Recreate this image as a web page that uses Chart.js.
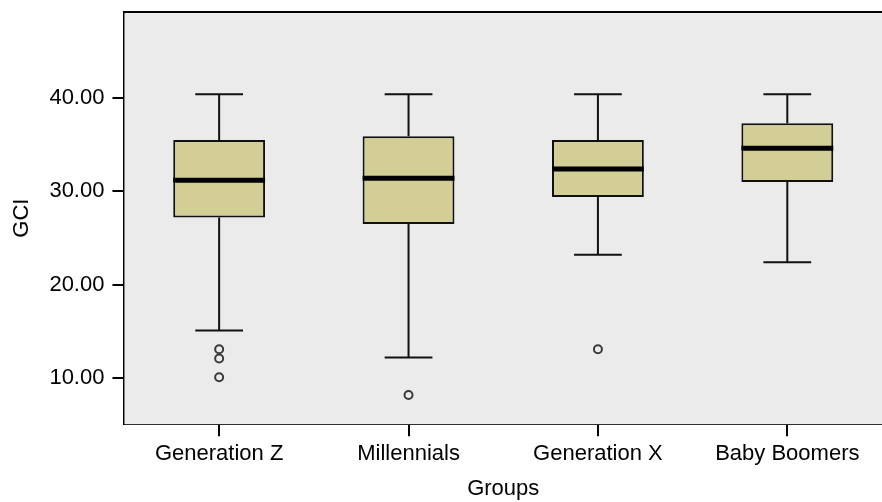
<!DOCTYPE html>
<html>
<head>
<meta charset="utf-8">
<script src="https://cdn.jsdelivr.net/npm/chart.js@4/dist/chart.umd.min.js"></script>
<style>
  html, body { margin: 0; padding: 0; background: #fff; overflow: hidden; }
  #wrap { width: 888px; height: 502px; }
</style>
</head>
<body>
<div id="wrap"><canvas id="boxChart"></canvas></div>
<script>
const categories = ["Generation Z", "Millennials", "Generation X", "Baby Boomers"];
const whiskerLow = [15.1, 12.2, 23.2, 22.4];
const q1 = [27.2, 26.5, 29.4, 31.0];
const median = [31.2, 31.4, 32.4, 34.6];
const q3 = [35.5, 35.9, 35.5, 37.3];
const whiskerHigh = [40.4, 40.4, 40.4, 40.4];
const outliers = [[13.1, 12.1, 10.1], [8.2], [13.1], []];
const yTicks = [10, 20, 30, 40];

const outlierPoints = [];
outliers.forEach((list, i) => {
  list.forEach(v => outlierPoints.push({ x: categories[i], y: v }));
});

const FONT = "'Liberation Sans', Arial, sans-serif";

// grey plot background, top frame line, whiskers and medians
const boxPlot = {
  id: 'boxPlot',
  beforeDatasetsDraw(chart) {
    const { ctx, chartArea: a } = chart;
    ctx.save();
    ctx.fillStyle = '#ebebeb';
    ctx.fillRect(a.left, a.top, a.right - a.left, a.bottom - a.top);
    ctx.strokeStyle = '#000';
    ctx.lineWidth = 2;
    ctx.beginPath();
    ctx.moveTo(a.left - 1, a.top);
    ctx.lineTo(a.right, a.top);
    ctx.stroke();
    ctx.restore();
  },
  afterDatasetsDraw(chart) {
    const { ctx } = chart;
    const y = chart.scales.y;
    const bars = chart.getDatasetMeta(0).data;
    ctx.save();
    bars.forEach((bar, i) => {
      const cx = bar.x;
      const half = bar.width / 2;
      const cap = bar.width * 0.26;
      const yLo = y.getPixelForValue(whiskerLow[i]);
      const yHi = y.getPixelForValue(whiskerHigh[i]);
      const yQ1 = y.getPixelForValue(q1[i]);
      const yQ3 = y.getPixelForValue(q3[i]);
      ctx.strokeStyle = '#111';
      ctx.lineWidth = 2;
      ctx.beginPath();
      ctx.moveTo(cx, yQ3); ctx.lineTo(cx, yHi);
      ctx.moveTo(cx, yQ1); ctx.lineTo(cx, yLo);
      ctx.moveTo(cx - cap, yHi); ctx.lineTo(cx + cap, yHi);
      ctx.moveTo(cx - cap, yLo); ctx.lineTo(cx + cap, yLo);
      ctx.stroke();
      ctx.lineWidth = 5;
      ctx.strokeStyle = '#000';
      const yMed = y.getPixelForValue(median[i]);
      ctx.beginPath();
      ctx.moveTo(cx - half, yMed); ctx.lineTo(cx + half, yMed);
      ctx.stroke();
    });
    ctx.restore();
  }
};

new Chart(document.getElementById('boxChart'), {
  type: 'bar',
  data: {
    labels: categories,
    datasets: [
      {
        label: 'Box',
        data: q1.map((v, i) => [v, q3[i]]),
        backgroundColor: '#d3ce96',
        borderColor: '#111',
        borderWidth: 2,
        borderSkipped: false,
        categoryPercentage: 1,
        barPercentage: 0.485
      },
      {
        type: 'line',
        label: 'Outliers',
        data: outlierPoints,
        showLine: false,
        pointStyle: 'circle',
        pointRadius: 4,
        pointBorderWidth: 2,
        pointBorderColor: '#3a3a3a',
        pointBackgroundColor: 'rgba(0,0,0,0)'
      }
    ]
  },
  options: {
    responsive: true,
    maintainAspectRatio: false,
    animation: false,
    layout: { padding: { top: 12, left: 9, right: 0, bottom: 0 } },
    plugins: {
      legend: { display: false },
      tooltip: { enabled: false }
    },
    scales: {
      x: {
        offset: true,
        grid: { offset: false, drawOnChartArea: false, drawTicks: true, tickLength: 12, color: '#000', lineWidth: 2 },
        border: { display: true, color: '#000', width: 2 },
        ticks: { color: '#000', font: { family: FONT, size: 22 }, padding: 5, maxRotation: 0 },
        title: { display: true, text: 'Groups', color: '#000', font: { family: FONT, size: 22 }, padding: { top: 3, bottom: 0 } }
      },
      y: {
        min: 5.07,
        max: 49.2,
        afterBuildTicks(scale) { scale.ticks = yTicks.map(v => ({ value: v })); },
        afterFit(scale) { scale.paddingTop = 0; scale.paddingBottom = 0; },
        grid: { drawOnChartArea: false, drawTicks: true, tickLength: 12, color: '#000', lineWidth: 2 },
        border: { display: true, color: '#000', width: 2 },
        ticks: { color: '#000', font: { family: FONT, size: 22 }, padding: 8, callback: v => Number(v).toFixed(2) },
        title: { display: true, text: 'GCI', color: '#000', font: { family: FONT, size: 22 }, padding: { top: 0, bottom: 6 } }
      }
    }
  },
  plugins: [boxPlot]
});
</script>
</body>
</html>
